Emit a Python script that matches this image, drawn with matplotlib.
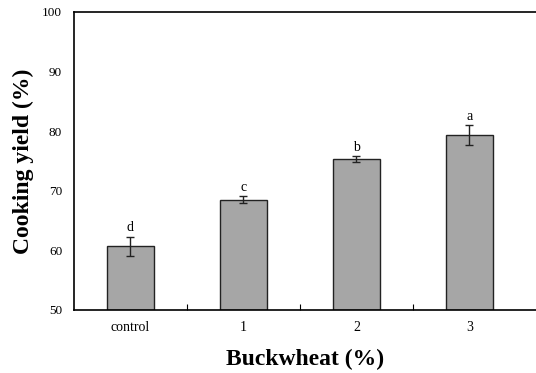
import matplotlib
matplotlib.use("Agg")
import matplotlib.pyplot as plt

# Cooking yield by buckwheat level
categories = ["control", "1", "2", "3"]
yield_mean = [60.7, 68.5, 75.3, 79.3]
yield_err = [1.6, 0.6, 0.5, 1.7]
letters = ["d", "c", "b", "a"]

plt.rcParams['font.family'] = ['Liberation Serif', 'DejaVu Serif']

fig = plt.figure(figsize=(5.36, 3.73), dpi=100)
ax = fig.add_axes([0.138, 0.169, 0.862, 0.799])

x = range(len(categories))
ax.bar(x, [v - 50 for v in yield_mean], bottom=50, width=0.41, color='#a6a6a6',
       edgecolor='#222222', linewidth=1.0, zorder=2)
ax.errorbar(x, yield_mean, yerr=yield_err, fmt='none', ecolor='#222222',
            elinewidth=1.0, capsize=3, capthick=1.0, zorder=3)
for i, (v, e, s) in enumerate(zip(yield_mean, yield_err, letters)):
    ax.text(i, v + e + 0.4, s, ha='center', va='bottom', fontsize=10)

ax.set_ylim(50, 100)
ax.set_xlim(-0.5, 3.59)
ax.set_yticks([50, 60, 70, 80, 90, 100])
ax.tick_params(axis='y', length=0, labelsize=9.5, pad=8.5)
ax.set_xticks(list(x))
ax.set_xticklabels(categories)
ax.tick_params(axis='x', length=0, labelsize=10, pad=8)
ax.set_xticks([0.5, 1.5, 2.5], minor=True)
ax.tick_params(axis='x', which='minor', direction='in', length=4, width=0.8)
ax.spines['right'].set_visible(False)
for sp in ['left', 'top', 'bottom']:
    ax.spines[sp].set_linewidth(1.2)

ax.set_xlabel("Buckwheat (%)", fontsize=17, fontweight='bold', labelpad=11)
ax.set_ylabel("Cooking yield (%)", fontsize=17, fontweight='bold', labelpad=6)

fig.savefig("out.png", dpi=100)
